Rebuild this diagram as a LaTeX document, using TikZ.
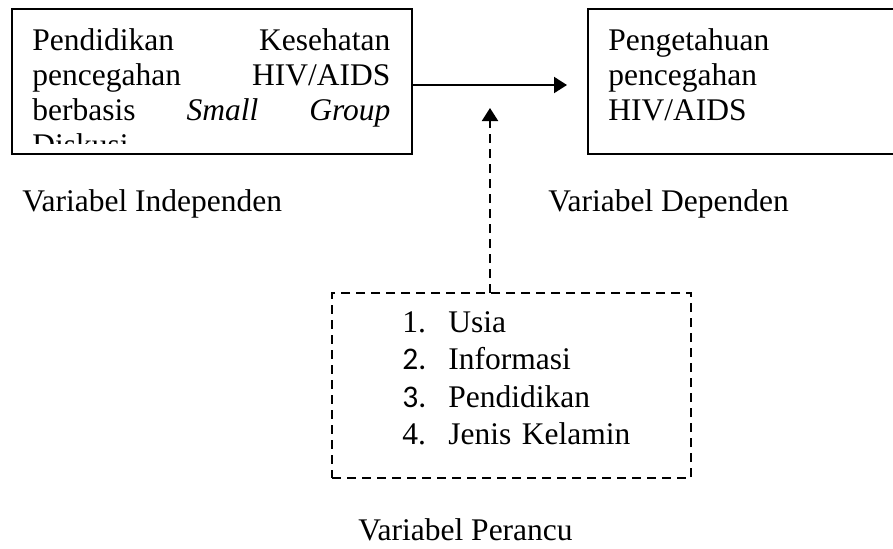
\documentclass[tikz,border=0pt]{standalone}
\usepackage{fontspec}
\setmainfont{Liberation Serif}
\newfontfamily\calibri{Carlito}
\usetikzlibrary{arrows.meta,positioning}
\tikzset{
  vbox/.style={draw, line width=1pt, inner sep=0pt, outer sep=0pt, anchor=north west},
  dbox/.style={vbox, dash pattern=on 4.5pt off 3pt},
  txt/.style={inner sep=0pt, font=\fontsize{15.75}{17.6}\selectfont},
  lbl/.style={txt, anchor=base west},
  arr/.style={line width=1pt, -{Triangle[length=6.5pt,width=8pt]}},
}

\begin{document}
\begin{tikzpicture}[x=0.5pt, y=-0.5pt]
  \useasboundingbox (0,0) rectangle (893,548);

  %% independent variable
  \begin{scope}
    \clip (12,9) rectangle (412,143);
    \node[txt, anchor=base west, text width=179pt, align=justify] (indeptxt) at (32,50)
      {Pendidikan Kesehatan\linebreak pencegahan HIV/AIDS\linebreak berbasis \textit{Small Group}\linebreak Diskusi};
  \end{scope}
  \node[vbox, minimum width=200pt, minimum height=72.5pt] (indep) at (12,9) {};
  \node[lbl] (indeplbl) at (22,211) {Variabel Independen};

  %% dependent variable
  \node[vbox, minimum width=160pt, minimum height=72.5pt] (dep) at (588,9) {};
  \node[txt, anchor=base west, text width=130pt, align=left] (deptxt) at (608,50)
    {Pengetahuan\\pencegahan\\HIV/AIDS};
  \node[lbl] (deplbl) at (548,211) {Variabel Dependen};

  %% confounding variables
  \node[dbox, minimum width=179.5pt, minimum height=92.5pt] (perancu) at (332,293) {};
  \node[txt, anchor=base west, text width=130pt, align=left, font=\fontsize{15.75}{18.8}\selectfont] (perancutxt) at (402,332)
    {\makebox[23pt][l]{1.}Usia\\
     \makebox[23pt][l]{\calibri 2.}Informasi\\
     \makebox[23pt][l]{\calibri 3.}Pendidikan\\
     \makebox[23pt][l]{4.}Jenis Kelamin};
  \node[lbl] (perancylbl) at (358,540) {Variabel Perancu};

  % arrows
  \coordinate (ptip) at (490,108);
  \draw[arr, shorten >=10.5pt] ([yshift=-1.75pt]indep.east) -- ([yshift=-1.75pt]dep.west);
  \draw[arr, dash pattern=on 4.5pt off 3pt] (perancu.north -| ptip) -- (ptip);
\end{tikzpicture}
\end{document}
